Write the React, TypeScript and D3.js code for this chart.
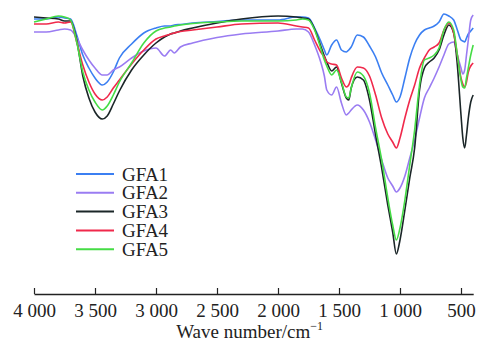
import React, { useEffect, useRef } from 'react';
import * as d3 from 'd3';

// FTIR spectra of GFA1-GFA5 (transmittance, arbitrary %)
const wavenumbers = [
  4000, 3900, 3800, 3750, 3700, 3650, 3600, 3550, 3500, 3440, 3400, 3350, 3300, 3200, 3100, 3000,
  2930, 2880, 2850, 2800, 2700, 2500, 2300, 2000, 1850, 1800, 1750, 1700, 1650, 1620, 1600, 1560,
  1520, 1480, 1440, 1420, 1400, 1350, 1300, 1250, 1200, 1150, 1100, 1060, 1030, 1000, 960, 920,
  880, 840, 800, 760, 720, 680, 640, 600, 560, 530, 500, 485, 470, 455, 440, 420, 400,
];

const gfa1 = [
  96.4, 96.4, 97.2, 96.8, 96.4, 90, 82, 76.8, 72.8, 70, 71.2, 75.2, 80.8, 86.4, 90.8, 92.8,
  93.6, 93.6, 94, 94.2, 94.8, 95.4, 96, 96, 97.2, 97.2, 96.8, 92.8, 87.6, 84, 82, 86,
  88, 84, 83.2, 84, 85.2, 90, 89.2, 85.6, 81.2, 74.8, 70, 66, 63.2, 65.2, 72.8, 80.8,
  86.4, 90, 92, 92.8, 93.6, 95.2, 98.4, 97.6, 96, 92, 88, 87.6, 87.2, 88.8, 90.4, 91.6, 92.8,
];

const gfa2 = [
  91.2, 91.2, 92, 92.4, 92, 88.8, 84, 80, 76.8, 74, 74, 76, 77.2, 80.8, 83.6, 84.8,
  81.6, 84, 82.8, 85.2, 86.8, 89, 90.4, 91.6, 92.4, 92.4, 91.2, 86, 79.2, 73.6, 68, 66,
  69.2, 62.8, 58, 58.8, 60, 62, 60, 55.2, 48, 40, 32.8, 29.6, 27.2, 28.8, 33.6, 40.8,
  48, 56.8, 64.8, 68.8, 72.8, 77.2, 82, 86.4, 87.2, 82, 76.8, 74.4, 76, 82, 88, 96, 98,
];

const gfa3 = [
  97.2, 96.8, 96.4, 95.6, 95.6, 88, 73.6, 64.8, 59.2, 56.4, 57.6, 62.4, 67.6, 76, 82, 86.8,
  89.2, 90.4, 90.8, 91.6, 92.8, 94.8, 96.4, 97.6, 97.2, 96.8, 96.4, 92.4, 85.6, 81.6, 79.2, 75.6,
  77.2, 70.8, 64.8, 64, 68.8, 73.2, 72, 64, 50, 36.8, 22, 11.2, 2.4, 8, 20, 32.8,
  44.8, 68, 76.8, 79.2, 80.8, 84, 90, 94, 90.8, 78, 58, 48.8, 44.8, 50, 56.8, 63.2, 66,
];

const gfa4 = [
  94.4, 94.4, 95.2, 94.8, 95.2, 87.2, 78, 71.2, 66.4, 64, 65.2, 68.8, 72, 78.4, 84, 88.4,
  89.6, 90.4, 90.8, 91.4, 92, 93.2, 94.4, 94.8, 93.6, 93.2, 92.8, 88, 83.2, 81.2, 79.2, 78.4,
  78, 72.8, 69.2, 70, 72.8, 77.2, 76.8, 73.6, 66, 56.8, 50.4, 47.2, 44.8, 48.8, 56.8, 64,
  70, 76.8, 80.8, 84, 85.2, 86.8, 92, 94.8, 90.8, 82, 72.8, 70.4, 69.2, 71.2, 75.2, 77.6, 78.8,
];

const gfa5 = [
  95.2, 96.4, 97.6, 97.2, 96, 87.2, 75.2, 68, 63.2, 60, 61.6, 66, 71.2, 78.8, 86.8, 91.6,
  92.8, 93.2, 93.6, 94, 94.6, 95.2, 95.6, 95.6, 96, 96.4, 96, 92, 84.8, 80, 77.6, 74,
  76, 71.2, 65.2, 64.8, 68.8, 75.2, 73.6, 66.8, 52.8, 40, 24.8, 14, 8, 12.8, 24, 38,
  52, 70, 80, 80.8, 82, 84.8, 92, 95.2, 92, 82, 72, 69.2, 68.8, 72.8, 76.8, 82, 86,
];

const seriesNames = ['GFA1', 'GFA2', 'GFA3', 'GFA4', 'GFA5'];
const seriesValues = [gfa1, gfa2, gfa3, gfa4, gfa5];
const seriesColours = ['#3b7ff2', '#9a7cf2', '#1b2628', '#f0294b', '#45dc45'];
const xTicks = [4000, 3500, 3000, 2500, 2000, 1500, 1000, 500];

const width = 477;
const height = 342;
const fontFamily = "'Liberation Serif', 'Times New Roman', 'DejaVu Serif', serif";

const formatTick = (n: number) =>
  n >= 1000 ? `${Math.floor(n / 1000)} ${String(n % 1000).padStart(3, '0')}` : String(n);

const App: React.FC = () => {
  const axisRef = useRef<SVGGElement>(null);

  const x = d3.scaleLinear().domain([4000, 400]).range([34, 473.2]);
  const y = d3.scaleLinear().domain([0, 100]).range([260, 10]);
  const axisY = 294;

  const line = d3
    .line<number>()
    .x((_d, i) => x(wavenumbers[i]))
    .y(d => y(d))
    .curve(d3.curveMonotoneX);

  useEffect(() => {
    const g = d3.select(axisRef.current);
    g.selectAll('*').remove();
    const axis = d3
      .axisBottom(x)
      .tickValues(xTicks)
      .tickSizeInner(-6)
      .tickSizeOuter(0)
      .tickPadding(10)
      .tickFormat(d => formatTick(d as number));
    g.call(axis);
    g.attr('font-family', null).attr('font-size', null);
    g.select('.domain').attr('stroke', '#222').attr('stroke-width', 1.4);
    g.selectAll('.tick line').attr('stroke', '#222').attr('stroke-width', 1.2);
    g.selectAll('.tick text')
      .attr('fill', '#222')
      .style('font-size', '19px')
      .style('font-family', fontFamily);
  }, []);

  return (
    <div style={{ position: 'absolute', left: 0, top: 0 }}>
      <svg
        width={width}
        height={height}
        style={{ display: 'block', background: '#fff', fontFamily: fontFamily }}
      >
        {seriesValues.map((vals, i) => (
          <path
            key={seriesNames[i]}
            d={line(vals) ?? ''}
            fill="none"
            stroke={seriesColours[i]}
            strokeWidth={1.6}
            strokeLinejoin="round"
          />
        ))}

        <g ref={axisRef} transform={`translate(0,${axisY})`} />

        <text
          x={(x(4000) + x(400)) / 2 - 4}
          y={338}
          textAnchor="middle"
          style={{ fontSize: '19px', fontFamily: fontFamily }}
          fill="#222"
        >
          Wave number/cm
          <tspan dy={-8} style={{ fontSize: '12px' }}>−1</tspan>
        </text>

        {seriesNames.map((name, i) => {
          const cy = 174 + i * 18.8;
          return (
            <g key={name}>
              <line x1={76} x2={114} y1={cy} y2={cy} stroke={seriesColours[i]} strokeWidth={2} />
              <text
                x={122}
                y={cy}
                dy="0.35em"
                style={{ fontSize: '19px', fontFamily: fontFamily }}
                fill="#222"
              >
                {name}
              </text>
            </g>
          );
        })}
      </svg>
    </div>
  );
};

export default App;
